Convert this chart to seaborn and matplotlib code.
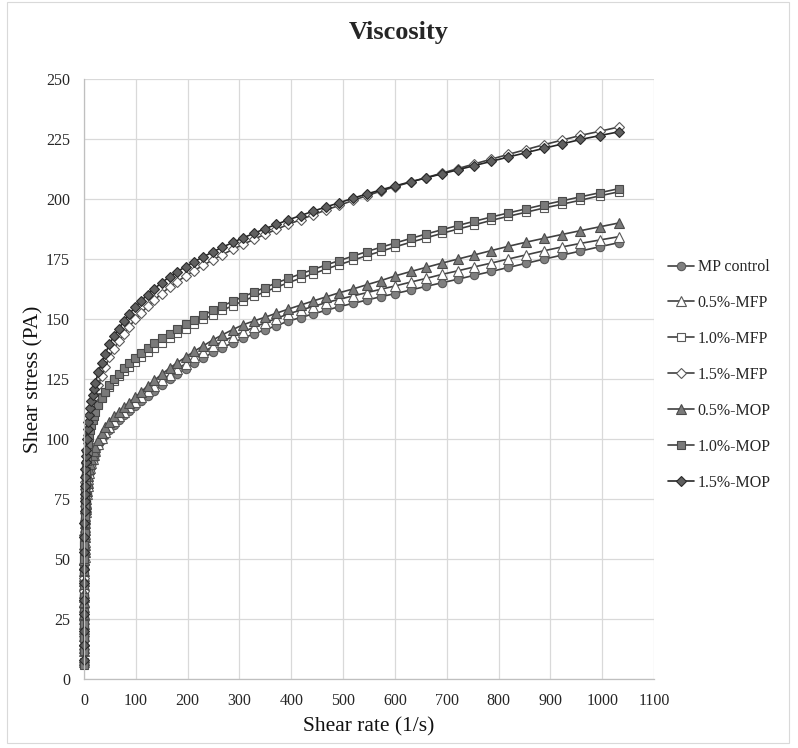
import matplotlib
matplotlib.use('Agg')
import matplotlib.pyplot as plt
import seaborn as sns
import pandas as pd
from matplotlib.patches import Rectangle

# shear rate (1/s), same grid for every sample
shear_rate = [0.03, 0.06, 0.1, 0.15, 0.2, 0.27, 0.35, 0.45, 0.6, 0.8,
              1.0, 1.2, 1.4, 1.7, 2.1, 2.6, 3.1, 3.6, 4.2,
              5.5, 7.0, 8.5, 10.3, 12.3, 14.4, 16.7, 19.2, 21.8,
              27.6, 34, 41, 49, 58, 67, 77, 87, 99, 110,
              123, 136, 150, 165, 180, 196, 213, 230, 249, 267,
              287, 307, 328, 349, 371, 394, 418, 442, 467, 492,
              519, 546, 573, 601, 631, 660, 691, 722, 753, 786,
              819, 853, 887, 922, 958, 995, 1032]

# shear stress (Pa)
mp_control = [7, 12, 17, 22, 26, 31, 35, 40, 44, 48.5,
              52, 55, 58, 61, 64, 67, 70, 72, 74,
              77.5, 80.5, 83, 85.5, 87.5, 89.2, 90.8, 92.3, 93.7,
              97, 99.5, 101.8, 103.8, 105.9, 107.9, 109.8, 111.7, 113.8, 115.8,
              118.1, 120.2, 122.5, 124.8, 127, 129.3, 131.7, 133.8, 136.1, 138,
              140.1, 142, 143.8, 145.5, 147.2, 149.1, 150.6, 152.1, 153.6, 155.1,
              156.5, 157.9, 159.3, 160.6, 162.1, 163.6, 165.1, 166.6, 168.2, 169.8,
              171.5, 173.2, 174.9, 176.6, 178.3, 180.1, 181.8]
mfp_05 = [7, 11.5, 16, 21, 25, 30, 34, 39, 43, 47.5,
          51, 54, 57, 60.5, 63.5, 66.5, 69.5, 71.5, 73.5,
          77, 80.5, 83.5, 86, 88, 90, 91.7, 93.3, 94.8,
          97.8, 100.6, 103, 105.2, 107.4, 109.4, 111.4, 113.3, 115.4, 117.4,
          119.8, 122, 124.4, 126.8, 129.1, 131.4, 134, 136.2, 138.6, 140.6,
          142.7, 144.6, 146.6, 148.4, 150.2, 152.1, 153.7, 155.2, 156.8, 158.2,
          159.6, 161, 162.4, 163.8, 165.4, 166.9, 168.6, 170.1, 171.7, 173.3,
          175, 176.7, 178.4, 180, 181.5, 182.9, 184.3]
mfp_10 = [7, 12.5, 18, 24, 29, 35, 40, 46, 51, 57,
          62, 66, 69.5, 73.5, 77, 81, 84, 87, 89.5,
          94, 98, 101, 103.8, 106, 107.9, 109.6, 111.3, 112.8,
          115, 117.6, 119.6, 121.8, 124, 126.1, 128.3, 130.1, 132.2, 134,
          136.1, 138.1, 140.1, 142.1, 144, 146, 147.9, 149.8, 151.8, 153.6,
          155.6, 157.5, 159.4, 161.3, 163.2, 165.1, 167, 168.8, 170.8, 172.6,
          174.5, 176.4, 178.2, 180.1, 182, 183.8, 185.7, 187.5, 189.2, 191.1,
          192.8, 194.5, 196.2, 197.8, 199.5, 201.3, 203]
mfp_15 = [7, 12.5, 18, 24.5, 30, 36.5, 42, 48, 54, 60,
          65, 69, 72, 75.5, 79, 82, 85, 87.5, 90,
          94.5, 98.5, 101.5, 104.5, 107.5, 110.3, 113, 115.5, 117.8,
          122.3, 126.3, 130.1, 134.1, 137.7, 140.7, 143.8, 146.8, 149.9, 152.5,
          155.3, 158, 160.6, 163.3, 165.6, 167.9, 170.2, 172.4, 174.7, 176.8,
          179, 181.1, 183.2, 185.3, 187.3, 189.4, 191.4, 193.4, 195.4, 197.3,
          199.4, 201.4, 203.3, 205.2, 207.1, 208.9, 210.8, 212.7, 214.6, 216.6,
          218.6, 220.6, 222.6, 224.5, 226.5, 228.2, 230]
mop_05 = [8, 13, 18, 23, 27, 32, 36, 41, 45, 49.5,
          53, 56, 59, 62, 65, 68, 71, 73, 75,
          78.5, 81.5, 84.5, 87.3, 89.5, 91.5, 93.3, 95, 96.5,
          99.5, 102.5, 104.8, 107, 109.4, 111.4, 113.3, 115.2, 117.4, 119.6,
          122.2, 124.5, 127, 129.5, 131.8, 134.1, 136.6, 138.8, 141.3, 143.4,
          145.6, 147.6, 149.2, 150.7, 152.4, 154.1, 155.8, 157.5, 159.2, 160.9,
          162.5, 164.3, 166, 168, 169.8, 171.5, 173.3, 175, 176.7, 178.5,
          180.3, 182, 183.6, 185.2, 186.8, 188.4, 190]
mop_10 = [6, 11.5, 17, 23, 28, 34, 39, 45, 50, 56,
          61, 65, 68, 71.5, 75, 78.5, 81.5, 84, 86.5,
          91, 95, 98, 101, 103.6, 105.8, 107.8, 109.6, 111.2,
          114.3, 117.1, 119.7, 122.3, 124.9, 127.2, 129.5, 131.6, 133.9, 135.8,
          137.9, 139.9, 141.9, 143.9, 145.8, 147.8, 149.7, 151.6, 153.6, 155.4,
          157.4, 159.3, 161.2, 163.1, 165, 166.9, 168.8, 170.6, 172.5, 174.3,
          176.2, 178.1, 179.9, 181.7, 183.6, 185.4, 187.2, 189, 190.7, 192.5,
          194.2, 195.9, 197.6, 199.2, 200.9, 202.6, 204.3]
mop_15 = [8, 14, 20, 27, 33, 40, 46, 53, 59, 65,
          70, 74, 77, 80.5, 84, 87.5, 90.5, 93, 95.5,
          100, 104, 107, 110, 113, 115.8, 118.5, 121, 123.3,
          127.8, 131.8, 135.5, 139.5, 143, 146, 149, 152, 155, 157.5,
          160.2, 162.7, 165.1, 167.6, 169.7, 171.8, 173.9, 175.9, 178, 179.9,
          181.9, 183.8, 185.7, 187.6, 189.4, 191.3, 193.1, 194.9, 196.7, 198.4,
          200.3, 202.1, 203.8, 205.5, 207.2, 208.8, 210.5, 212.2, 213.9, 215.7,
          217.5, 219.3, 221.1, 222.9, 224.8, 226.4, 228]

labels = ['MP control', '0.5%-MFP', '1.0%-MFP', '1.5%-MFP',
          '0.5%-MOP', '1.0%-MOP', '1.5%-MOP']
series = [mp_control, mfp_05, mfp_10, mfp_15, mop_05, mop_10, mop_15]

# marker, size, face, edge, line colour
styles = [('o', 6.0, '#808080', '#595959', '#404040'),
          ('^', 6.6, 'white', '#595959', '#404040'),
          ('s', 5.8, 'white', '#595959', '#404040'),
          ('D', 5.0, 'white', '#595959', '#404040'),
          ('^', 6.6, '#7a7a7a', '#4a4a4a', '#404040'),
          ('s', 5.8, '#7a7a7a', '#4a4a4a', '#404040'),
          ('D', 5.0, '#5f5f5f', '#2a2a2a', '#262626')]

sns.set_style('whitegrid')
plt.rcParams['font.family'] = ['Liberation Serif', 'DejaVu Serif']

fig = plt.figure(figsize=(7.98, 7.48), dpi=100)
ax = fig.add_axes([84/798, 69/748, 570/798, 600/748])

for lab, ys, (mk, ms, fc, ec, lc) in zip(labels, series, styles):
    df = pd.DataFrame({'rate': shear_rate, 'stress': ys})
    sns.lineplot(data=df, x='rate', y='stress', ax=ax, label=lab,
                 color=lc, linewidth=1.2, marker=mk, markersize=ms,
                 markerfacecolor=fc, markeredgecolor=ec, markeredgewidth=0.8,
                 estimator=None, sort=False, clip_on=False)

ax.set_xlim(0, 1100)
ax.set_ylim(0, 250)
ax.set_xticks(range(0, 1101, 100))
ax.set_yticks(range(0, 251, 25))
ax.grid(True, color='#d9d9d9', linewidth=0.9)
for s in ['top', 'right']:
    ax.spines[s].set_visible(False)
for s in ['left', 'bottom']:
    ax.spines[s].set_color('#bfbfbf')
    ax.spines[s].set_linewidth(0.9)
ax.tick_params(axis='both', length=0, labelsize=11.5, colors='#262626')
ax.tick_params(axis='x', pad=10)
ax.tick_params(axis='y', pad=10)

ax.set_xlabel('Shear rate (1/s)', fontsize=15.5, color='#111111', labelpad=6)
ax.set_ylabel('Shear stress (PA)', fontsize=15.5, color='#111111', labelpad=2)

fig.text(0.5, 1 - 33/748, 'Viscosity', ha='center', va='center',
         fontsize=19, fontweight='bold')

handles, labs = ax.get_legend_handles_labels()
ax.get_legend().remove()
fig.legend(handles, labs, loc='center left', bbox_to_anchor=(668/798, 1 - 375/748),
           frameon=False, fontsize=11.5, labelspacing=1.25, handlelength=1.6,
           handletextpad=0.25, borderpad=0, borderaxespad=0)

# thin outer frame like the original chart area
fig.patches.append(Rectangle((0.009, 0.007), 0.98, 0.99, transform=fig.transFigure,
                             fill=False, edgecolor='#d9d9d9', linewidth=0.8))

fig.savefig('out.png', dpi=100)
